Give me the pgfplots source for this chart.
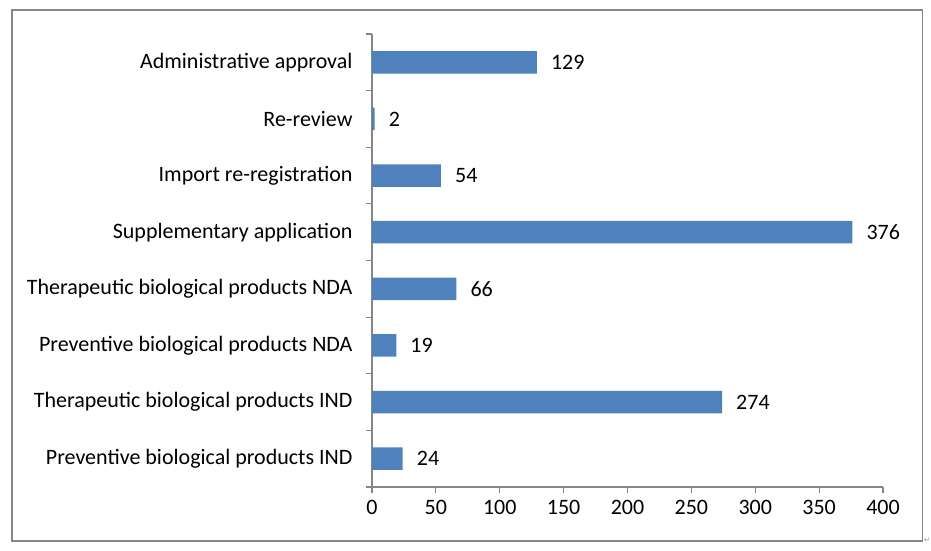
\documentclass[border=0pt]{standalone}
\usepackage{pgfplots}
\pgfplotsset{compat=1.18}
\usepackage{fontspec}
\setmainfont{Carlito}
\newfontfamily\dejavu{DejaVu Sans}
\definecolor{barblue}{RGB}{79,129,189}
\definecolor{framegray}{RGB}{134,134,134}
\begin{document}
\begin{tikzpicture}[x=1pt,y=1pt]
\useasboundingbox (0,0) rectangle (931,550);
\draw[framegray, line width=1.6pt] (12,9) rectangle (922.5,540);
\node[font=\dejavu\fontsize{7}{8}\selectfont, text=framegray, inner sep=0pt] at (927,10) {↵};
\begin{axis}[
    at={(372pt,63pt)}, anchor=origin,
    scale only axis,
    width=511pt, height=453pt,
    xbar, bar width=22.6pt,
    xmin=0, xmax=400,
    ymin=0, ymax=8,
    axis lines=left,
    axis line style={-, draw=framegray, line width=1.2pt},
    xtick={0,50,...,400},
    ytick={0,1,...,8},
    yticklabels={},
    extra y ticks={0.5,1.5,...,7.5},
    extra y tick labels={Preventive biological products IND, Therapeutic biological products IND, Preventive biological products NDA, Therapeutic biological products NDA, Supplementary application, Import re-registration, Re-review, Administrative approval},
    extra y tick style={major tick length=0pt, yticklabel style={xshift=-16pt}},
    tick align=outside,
    major tick length=6pt,
    tick style={draw=framegray, line width=1.2pt},
    tick label style={font=\fontsize{22}{26}\selectfont},
    /pgf/number format/assume math mode=true,
    xticklabel style={yshift=-4pt},
    nodes near coords,
    every node near coord/.append style={font=\fontsize{22}{26}\selectfont, anchor=west, inner sep=0pt, xshift=14pt},
    point meta=explicit symbolic,
    clip=false,
]
\addplot[fill=barblue, draw=none] coordinates {
    (24,0.5) [24]
    (274,1.5) [274]
    (19,2.5) [19]
    (66,3.5) [66]
    (376,4.5) [376]
    (54,5.5) [54]
    (2,6.5) [2]
    (129,7.5) [129]
};
\end{axis}
\end{tikzpicture}
\end{document}
